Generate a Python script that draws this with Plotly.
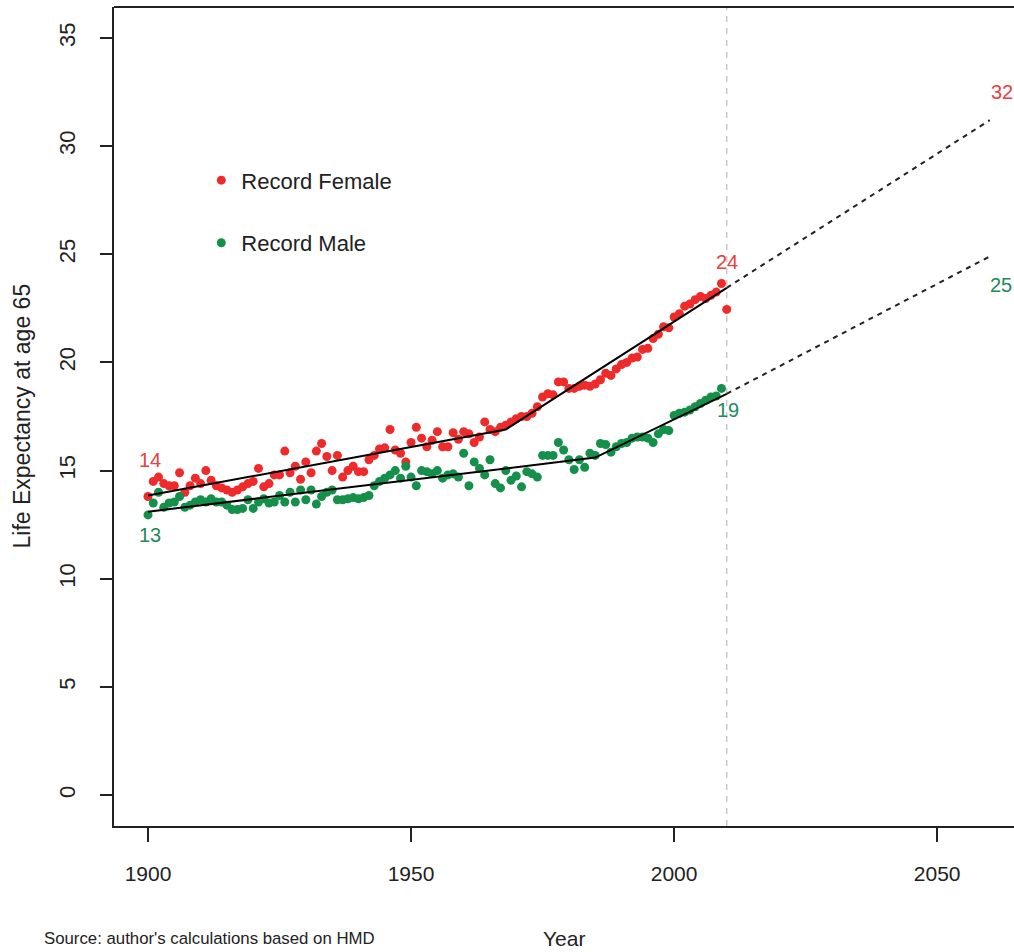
import plotly.graph_objects as go

# ---------------- data ----------------
years_female = list(range(1900, 2011))
female = [
    13.8, 14.5, 14.7, 14.4, 14.3, 14.3, 14.9, 14.0, 14.3, 14.65,
    14.4, 15.0, 14.55, 14.3, 14.2, 14.1, 14.0, 14.1, 14.25, 14.4,
    14.5, 15.1, 14.25, 14.4, 14.8, 14.8, 15.9,
    14.9, 15.2, 14.6, 15.4, 14.9, 15.9, 16.25, 15.65, 15.0, 15.7,
    14.7, 15.0, 15.2, 14.95, 14.95, 15.5, 15.7, 16.0, 16.05, 16.9,
    15.95, 15.8, 15.4, 16.3, 17.0, 16.5, 16.1,
    16.4, 16.8, 16.1, 16.1, 16.75, 16.45, 16.8, 16.7, 16.3, 16.55,
    17.25, 16.9, 16.8, 17.0, 17.1, 17.25, 17.4, 17.5, 17.5, 17.65,
    17.95, 18.4, 18.55, 18.5, 19.1, 19.1, 18.8,
    18.8, 18.9, 18.95, 18.9, 19.0, 19.2, 19.5, 19.4, 19.7, 19.9,
    20.0, 20.2, 20.25, 20.6, 20.65, 21.1, 21.3, 21.65, 21.6, 22.1,
    22.25, 22.6, 22.7, 22.9, 23.05, 22.95, 23.1, 23.25,
    23.65, 22.45,
]

years_male = list(range(1900, 2010))
male = [
    12.95, 13.5, 14.0, 13.3, 13.5, 13.55, 13.8, 13.3, 13.4, 13.55,
    13.65, 13.55, 13.7, 13.55, 13.55, 13.4, 13.2, 13.2, 13.25, 13.65,
    13.25, 13.55, 13.7, 13.5, 13.55, 13.85, 13.55, 14.0, 13.55, 14.1,
    13.65, 14.1, 13.45, 13.8, 14.0, 14.1, 13.65, 13.65, 13.7, 13.75,
    13.7, 13.75, 13.85, 14.3, 14.5, 14.65, 14.8, 15.0, 14.65, 15.2,
    14.7, 14.3, 15.0, 14.95, 14.85, 15.0, 14.65, 14.8, 14.85, 14.7,
    15.8, 14.3, 15.4, 15.1, 14.8, 15.5, 14.4, 14.2, 15.0, 14.55,
    14.75, 14.25, 14.95, 14.85, 14.7, 15.7, 15.7, 15.7, 16.3, 15.95,
    15.5, 15.05,
    15.5, 15.15, 15.8, 15.7, 16.25, 16.2, 15.85, 16.1, 16.25, 16.3,
    16.5, 16.55, 16.55, 16.5, 16.3, 16.7, 16.9, 16.85, 17.55, 17.65,
    17.7, 17.8, 17.95, 18.1, 18.25, 18.4, 18.45, 18.8,
]

fit_female_x = [1900, 1968, 2010]
fit_female_y = [13.85, 16.9, 23.45]
fit_male_x = [1900, 1985, 2010]
fit_male_y = [13.1, 15.6, 18.55]

proj_x = [2010, 2060]
proj_female_y = [23.45, 31.2]
proj_male_y = [18.55, 24.9]

cutoff_year = 2010

label_x = [1900.3, 1900.3, 2010.1, 2010.2, 2062.3, 2062.1]
label_y = [15.5, 12.0, 24.65, 17.8, 32.5, 23.6]
label_text = ["14", "13", "24", "19", "32", "25"]
label_sex = ["F", "M", "F", "M", "F", "M"]

x_ticks = [1900, 1950, 2000, 2050]
y_ticks = [0, 5, 10, 15, 20, 25, 30, 35]

# ---------------- style ----------------
RED = "#ee2b2a"
GREEN = "#14904a"
RED_TXT = "#e8403f"
GREEN_TXT = "#23895a"
INK = "#222222"
FONT = "Liberation Sans, Arial, sans-serif"

fig = go.Figure()

fig.add_trace(go.Scatter(
    x=years_female, y=female, mode="markers", name="Record Female",
    marker=dict(color=RED, size=9), legendgroup="f", showlegend=True,
))
fig.add_trace(go.Scatter(
    x=years_male, y=male, mode="markers", name="Record Male",
    marker=dict(color=GREEN, size=9), legendgroup="m", showlegend=True,
))

for fx, fy in [(fit_female_x, fit_female_y), (fit_male_x, fit_male_y)]:
    fig.add_trace(go.Scatter(x=fx, y=fy, mode="lines",
                             line=dict(color="black", width=2),
                             showlegend=False, hoverinfo="skip"))
for py in [proj_female_y, proj_male_y]:
    fig.add_trace(go.Scatter(x=proj_x, y=py, mode="lines",
                             line=dict(color="#222222", width=2, dash="5px,5px"),
                             showlegend=False, hoverinfo="skip"))

annotations = []
for lx, ly, lt, ls in zip(label_x, label_y, label_text, label_sex):
    annotations.append(dict(
        x=lx, y=ly, xref="x", yref="y", text=lt, showarrow=False,
        font=dict(size=20, color=RED_TXT if ls == "F" else GREEN_TXT, family=FONT),
        xanchor="center", yanchor="middle",
    ))

annotations += [
    dict(x=0.5, y=0, xref="paper", yref="paper", text="Year", showarrow=False,
         yshift=-112, xanchor="center", yanchor="middle",
         font=dict(size=21, color=INK, family=FONT)),
    dict(x=0, y=0.5, xref="paper", yref="paper", text="Life Expectancy at age 65",
         showarrow=False, textangle=-90, xshift=-93, xanchor="center",
         yanchor="middle", font=dict(size=23, color=INK, family=FONT)),
    dict(x=0, y=0, xref="paper", yref="paper",
         text="Source: author's calculations based on HMD", showarrow=False,
         xshift=-72, yshift=-112, xanchor="left", yanchor="middle",
         font=dict(size=16.8, color=INK, family=FONT)),
]

shapes = [
    dict(type="line", xref="x", yref="paper", x0=cutoff_year, x1=cutoff_year,
         y0=0, y1=1, line=dict(color="#c9c9c9", width=1.5, dash="6px,6px"),
         layer="below"),
    dict(type="line", xref="paper", yref="paper", x0=0, x1=1, y0=1, y1=1,
         line=dict(color=INK, width=2)),
]

fig.update_layout(
    width=1014, height=952,
    margin=dict(l=114, r=0, t=7, b=126),
    paper_bgcolor="white", plot_bgcolor="white",
    font=dict(family=FONT, color=INK),
    showlegend=True,
    legend=dict(x=0.097, y=0.814, xanchor="left", yanchor="top",
                bgcolor="rgba(0,0,0,0)", borderwidth=0,
                font=dict(size=22, color=INK, family=FONT),
                tracegroupgap=31, itemsizing="trace"),
    annotations=annotations,
    shapes=shapes,
    xaxis=dict(range=[1893.54, 2064.6], tickvals=x_ticks,
               ticks="outside", ticklen=14, tickwidth=1.5, tickcolor=INK,
               showline=True, linecolor=INK, linewidth=2,
               showgrid=False, zeroline=False,
               tickfont=dict(size=21, color=INK, family=FONT),
               ticklabelstandoff=14),
    yaxis=dict(range=[-1.43, 36.43], tickvals=y_ticks, tickangle=-90,
               ticks="outside", ticklen=12, tickwidth=1.5, tickcolor=INK,
               showline=True, linecolor=INK, linewidth=2,
               showgrid=False, zeroline=False,
               tickfont=dict(size=22, color=INK, family=FONT),
               ticklabelstandoff=16),
)

fig.write_html(
    "out.html",
    config={"displayModeBar": False},
    post_script="document.body.style.margin='0';document.body.style.overflow='hidden';",
)
